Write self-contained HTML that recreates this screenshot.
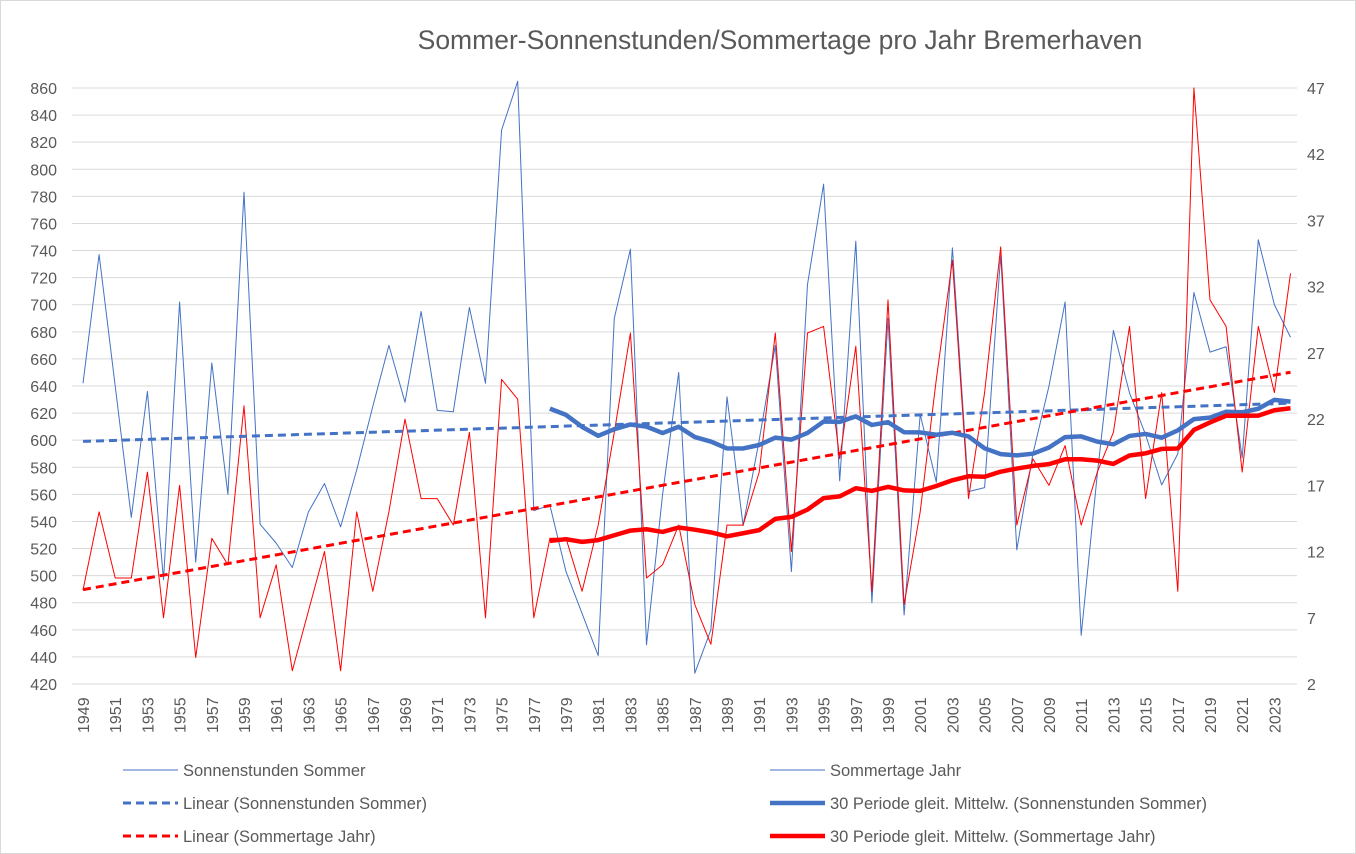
<!DOCTYPE html>
<html><head><meta charset="utf-8"><style>
body{margin:0;background:#fff}
svg{display:block;font-family:"Liberation Sans",sans-serif}
</style></head><body>
<svg id="c" width="1356" height="854" xmlns="http://www.w3.org/2000/svg"></svg>
<script>
const s=document.getElementById('c');
let h='<rect x="0.5" y="0.5" width="1355" height="853" fill="#fff" stroke="#d9d9d9"/>';
h+='<text x="780" y="49" font-size="26.5" fill="#595959" text-anchor="middle">Sommer-Sonnenstunden/Sommertage  pro Jahr Bremerhaven</text>';
const X0=83,DX=16.1,yL=v=>88+(860-v)*596/440,yR=v=>88+(47-v)*596/45;
for(let v=420;v<=860;v+=20){const y=yL(v);h+=`<line x1="72" x2="1297" y1="${y}" y2="${y}" stroke="#d9d9d9"/>`;
h+=`<text x="57" y="${y+6}" font-size="16" fill="#595959" text-anchor="end">${v}</text>`;}
for(let v=2;v<=47;v+=5){h+=`<text x="1307" y="${yR(v)+6}" font-size="16" fill="#595959">${v}</text>`;}
for(let yr=1949;yr<=2023;yr+=2){const x=X0+(yr-1949)*DX;h+=`<text transform="translate(${x+6},733) rotate(-90)" font-size="16" fill="#595959">${yr}</text>`;}
const B=[642,737,640,543,636,497,702,510,657,560,783,538,524,506,547,568,536,578,625,670,628,695,622,621,698,642,829,865,548,552,503,472,441,690,741,449,560,650,428,460,632,537,600,670,503,715,789,570,747,480,690,471,619,569,742,562,565,737,519,590,640,702,456,575,681,635,604,567,590,709,665,669,587,748,700,676];
const R=[9.1,15,10,10,18,7,17,4,13,11,23,7,11,3,7.5,12,3,15,9,15,22,16,16,14,21,7,25,23.5,7,13,13,9,14,21,28.5,10,11,14,8,5,14,14,18,28.5,12,28.5,29,19,27.5,9,31,8,15,25,34,16,24,35,14,19,17,20,14,18,21,29,16,24,9,47,31,29,18,29,24,33];
function line(arr,f,st,w,da){let p=arr.map((v,i)=>v==null?null:[X0+i*DX,f(v)]).filter(a=>a).map(a=>a.join(',')).join(' ');
h+=`<polyline points="${p}" fill="none" stroke="${st}" stroke-width="${w}" ${da?'stroke-dasharray="'+da+'"':''} stroke-linejoin="round"/>`;}
function ma(a){return a.map((v,i)=>i<29?null:a.slice(i-29,i+1).reduce((x,y)=>x+y)/30);}
function lin(a){const n=a.length;let sx=0,sy=0,sxy=0,sxx=0;a.forEach((v,i)=>{sx+=i;sy+=v;sxy+=i*v;sxx+=i*i});const b=(n*sxy-sx*sy)/(n*sxx-sx*sx),c=(sy-b*sx)/n;return [c,c+b*(n-1)];}
line(B,yL,'#4472c4',1);
line(R,yR,'#ff0000',1);
let lb=lin(B),lr=lin(R);
line([lb[0]].concat(Array(B.length-2).fill(null)).concat([lb[1]]),yL,'#4472c4',3,'8,5');
line([lr[0]].concat(Array(R.length-2).fill(null)).concat([lr[1]]),yR,'#ff0000',3,'8,5');
line(ma(B),yL,'#4472c4',4.5);
line(ma(R),yR,'#ff0000',4.5);
function leg(x,y,c,w,da,t){h+=`<line x1="${x}" x2="${x+55}" y1="${y}" y2="${y}" stroke="${c}" stroke-width="${w}" ${da?'stroke-dasharray="8,5"':''}/><text x="${x+60}" y="${y+6}" font-size="16.5" fill="#595959">${t}</text>`;}
leg(123,770,'#4472c4',1,0,'Sonnenstunden Sommer');
leg(123,803,'#4472c4',3,1,'Linear (Sonnenstunden Sommer)');
leg(123,836,'#ff0000',3,1,'Linear (Sommertage Jahr)');
leg(770,770,'#4472c4',1,0,'Sommertage Jahr');
leg(770,803,'#4472c4',4.5,0,'30 Periode gleit. Mittelw. (Sonnenstunden Sommer)');
leg(770,836,'#ff0000',4.5,0,'30 Periode gleit. Mittelw. (Sommertage Jahr)');
s.innerHTML=h;
</script>
</body></html>
